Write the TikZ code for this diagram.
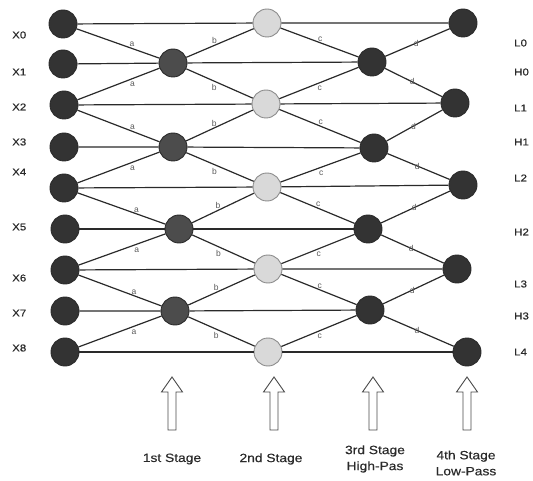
\documentclass[tikz,border=0pt]{standalone}
\usepackage{fontspec}
\setmainfont{Liberation Sans}
\newfontfamily\wide{Liberation Sans}[FakeStretch=1.15, FakeBold=0.4]
\definecolor{ink}{HTML}{2A2A2A}
\definecolor{dark}{HTML}{333333}
\definecolor{mid}{HTML}{4C4C4C}
\definecolor{pale}{HTML}{D9D9D9}
\definecolor{rim}{HTML}{8C8C8C}
\definecolor{faint}{HTML}{5A5A5A}
\begin{document}
\begin{tikzpicture}[x=1pt, y=-1pt,
  main/.style = {draw=ink, circle, line width=0.9pt, minimum size=28pt, inner sep=0pt},
  inp/.style = {main, fill=dark},
  odd/.style = {main, fill=mid},
  even/.style = {main, fill=pale, draw=rim},
  wire/.style = {ink, line width=1.2pt},
  lbl/.style = {font=\fontsize{8.5}{9}\selectfont, text=faint, inner sep=1pt},
  lup/.style = {lbl, above},
  ldn/.style = {lbl, below=2pt},
  lon/.style = {lbl},
  rowlbl/.style = {anchor=west, font=\wide\fontsize{10}{12}\selectfont, text=ink, inner sep=0pt},
  stagelbl/.style = {align=center, font=\wide\fontsize{12}{16}\selectfont, text=ink, inner sep=0pt},
  hollow/.style = {draw=ink!85, fill=white, line width=0.9pt, line join=miter}]
\useasboundingbox (0,0) rectangle (533,481);

\node[inp] (x0) at (63,24) {};
\node[inp] (x1) at (63,64) {};
\node[inp] (x2) at (64,105) {};
\node[inp] (x3) at (64,147) {};
\node[inp] (x4) at (64,188) {};
\node[inp] (x5) at (65,229) {};
\node[inp] (x6) at (65,270) {};
\node[inp] (x7) at (65,311) {};
\node[inp] (x8) at (65,352) {};

\node[odd] (p1) at (173,63) {};
\node[odd] (p3) at (173,147) {};
\node[odd] (p5) at (179,229) {};
\node[odd] (p7) at (175,311) {};

\node[even] (q0) at (267,23) {};
\node[even] (q2) at (266,104) {};
\node[even] (q4) at (267,187) {};
\node[even] (q6) at (268,269) {};
\node[even] (q8) at (268,352) {};

\node[inp] (r1) at (372,62) {};
\node[inp] (r3) at (374,148) {};
\node[inp] (r5) at (368,229) {};
\node[inp] (r7) at (370,310) {};

\node[inp] (s0) at (463,23) {};
\node[inp] (s2) at (455,103) {};
\node[inp] (s4) at (463,185) {};
\node[inp] (s6) at (457,269) {};
\node[inp] (s8) at (467,352) {};

\node[rowlbl] (lx0) at (12,35) {X0};
\node[rowlbl] (lx1) at (12,72) {X1};
\node[rowlbl] (lx2) at (12,107) {X2};
\node[rowlbl] (lx3) at (12,142) {X3};
\node[rowlbl] (lx4) at (12,172) {X4};
\node[rowlbl] (lx5) at (12,227) {X5};
\node[rowlbl] (lx6) at (12,278) {X6};
\node[rowlbl] (lx7) at (12,313) {X7};
\node[rowlbl] (lx8) at (12,348) {X8};

\node[rowlbl] (ll0) at (514,43) {L0};
\node[rowlbl] (lh0) at (514,72) {H0};
\node[rowlbl] (ll1) at (514,108) {L1};
\node[rowlbl] (lh1) at (514,142) {H1};
\node[rowlbl] (ll2) at (514,178) {L2};
\node[rowlbl] (lh2) at (514,232) {H2};
\node[rowlbl] (ll3) at (514,284) {L3};
\node[rowlbl] (lh3) at (514,316) {H3};
\node[rowlbl] (ll4) at (514,352) {L4};

\draw[wire] (x0) -- (q0) -- (s0);
\draw[wire] (x1) -- (p1) -- (r1);
\draw[wire] (x2) -- (q2) -- (s2);
\draw[wire] (x3) -- (p3) -- (r3);
\draw[wire] (x4) -- (q4) -- (s4);
\draw[wire] (x5) -- (p5) -- (r5);
\draw[wire] (x6) -- (q6) -- (s6);
\draw[wire] (x7) -- (p7) -- (r7);
\draw[wire] (x8) -- (q8) -- (s8);

\draw[wire] (x0) -- node[lup, pos=0.67] {a} (p1);
\draw[wire] (x2) -- node[ldn, pos=0.67] {a} (p1);
\draw[wire] (x2) -- node[lup, pos=0.67] {a} (p3);
\draw[wire] (x4) -- node[ldn, pos=0.67] {a} (p3);
\draw[wire] (x4) -- node[lup, pos=0.67] {a} (p5);
\draw[wire] (x6) -- node[ldn, pos=0.67] {a} (p5);
\draw[wire] (x6) -- node[lup, pos=0.67] {a} (p7);
\draw[wire] (x8) -- node[ldn, pos=0.67] {a} (p7);

\draw[wire] (p1) -- node[lup, pos=0.42] {b} (q0);
\draw[wire] (p1) -- node[ldn, pos=0.42] {b} (q2);
\draw[wire] (p3) -- node[lup, pos=0.42] {b} (q2);
\draw[wire] (p3) -- node[ldn, pos=0.42] {b} (q4);
\draw[wire] (p5) -- node[lup, pos=0.42] {b} (q4);
\draw[wire] (p5) -- node[ldn, pos=0.42] {b} (q6);
\draw[wire] (p7) -- node[lup, pos=0.42] {b} (q6);
\draw[wire] (p7) -- node[ldn, pos=0.42] {b} (q8);

\draw[wire] (q0) -- node[lup, pos=0.51] {c} (r1);
\draw[wire] (q2) -- node[ldn, pos=0.51] {c} (r1);
\draw[wire] (q2) -- node[lup, pos=0.51] {c} (r3);
\draw[wire] (q4) -- node[ldn, pos=0.51] {c} (r3);
\draw[wire] (q4) -- node[lup, pos=0.51] {c} (r5);
\draw[wire] (q6) -- node[ldn, pos=0.51] {c} (r5);
\draw[wire] (q6) -- node[lup, pos=0.51] {c} (r7);
\draw[wire] (q8) -- node[ldn, pos=0.51] {c} (r7);

\draw[wire] (r1) -- node[lon, pos=0.48] {d} (s0);
\draw[wire] (r1) -- node[lon, pos=0.48] {d} (s2);
\draw[wire] (r3) -- node[lon, pos=0.48] {d} (s2);
\draw[wire] (r3) -- node[lon, pos=0.48] {d} (s4);
\draw[wire] (r5) -- node[lon, pos=0.48] {d} (s4);
\draw[wire] (r5) -- node[lon, pos=0.48] {d} (s6);
\draw[wire] (r7) -- node[lon, pos=0.48] {d} (s6);
\draw[wire] (r7) -- node[lon, pos=0.48] {d} (s8);

\coordinate (ar1) at (172,430);
\coordinate (ar2) at (274,430);
\coordinate (ar3) at (373,430);
\coordinate (ar4) at (467,430);
\draw[hollow] (ar1) ++(-4,0) -- ++(0,-38) -- ++(-6.5,0) -- ++(10.5,-15) -- ++(10.5,15) -- ++(-6.5,0) -- ++(0,38) -- cycle;
\draw[hollow] (ar2) ++(-4,0) -- ++(0,-38) -- ++(-6.5,0) -- ++(10.5,-15) -- ++(10.5,15) -- ++(-6.5,0) -- ++(0,38) -- cycle;
\draw[hollow] (ar3) ++(-4,0) -- ++(0,-38) -- ++(-6.5,0) -- ++(10.5,-15) -- ++(10.5,15) -- ++(-6.5,0) -- ++(0,38) -- cycle;
\draw[hollow] (ar4) ++(-4,0) -- ++(0,-38) -- ++(-6.5,0) -- ++(10.5,-15) -- ++(10.5,15) -- ++(-6.5,0) -- ++(0,38) -- cycle;

\node[stagelbl] (st1) at (172,459) {1st Stage};
\node[stagelbl] (st2) at (271,459) {2nd Stage};
\node[stagelbl] (st3) at (375,459) {3rd Stage\\High-Pas};
\node[stagelbl] (st4) at (466,463) {4th Stage\\Low-Pass};
\end{tikzpicture}
\end{document}
